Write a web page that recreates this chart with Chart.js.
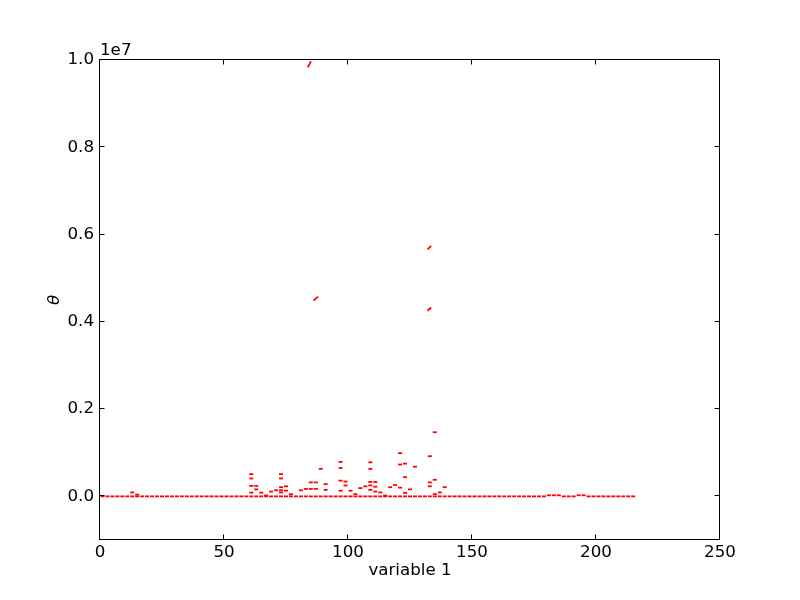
<!DOCTYPE html>
<html>
<head>
<meta charset="utf-8">
<script src="https://cdn.jsdelivr.net/npm/chart.js@4.4.1/dist/chart.umd.min.js"></script>
<style>
  html, body { margin: 0; background: #fff; }
</style>
</head>
<body>
<canvas id="chart" width="800" height="600"></canvas>
<script>
// Tick values for both axes
const xTicks = [0, 50, 100, 150, 200, 250];
const yTicks = [0, 2e6, 4e6, 6e6, 8e6, 1e7];

// Baseline dashes (variable 1 vs theta)
const baseX = [
  1, 3, 5, 7, 9, 11, 13, 15, 17, 19,
  21, 23, 25, 27, 29, 31, 33, 35, 37, 39,
  41, 43, 45, 47, 49, 51, 53, 55, 57, 59,
  61, 63, 65, 67, 69, 71, 73, 75, 77, 79,
  81, 83, 85, 87, 89, 91, 93, 95, 97, 99,
  101, 103, 105, 107, 109, 111, 113, 115, 117, 119,
  121, 123, 125, 127, 129, 131, 133, 135, 137, 139,
  141, 143, 145, 147, 149, 151, 153, 155, 157, 159,
  161, 163, 165, 167, 169, 171, 173, 175, 177, 179,
  181, 183, 185, 187, 189, 191, 193, 195, 197, 199,
  201, 203, 205, 207, 209, 211, 213, 215
];
const baseY = [
  0, 0, 0, 0, 0, 0, 0, 0, 0, 0,
  0, 0, 0, 0, 0, 0, 0, 0, 0, 0,
  0, 0, 0, 0, 0, 0, 0, 0, 0, 0,
  0, 0, 0, 0, 0, 0, 0, 0, 0, 0,
  0, 0, 0, 0, 0, 0, 0, 0, 0, 0,
  0, 0, 0, 0, 0, 0, 0, 0, 0, 0,
  0, 0, 0, 0, 0, 0, 0, 0, 0, 0,
  0, 0, 0, 0, 0, 0, 0, 0, 0, 0,
  0, 0, 0, 0, 0, 0, 0, 0, 0, 0,
  25000, 25000, 25000, 0, 0, 0, 25000, 25000, 0, 0,
  0, 0, 0, 0, 0, 0, 0, 0
];

// Raised dashes above the baseline
const raisedX = [
  13, 15,
  61, 61, 61, 61, 63, 63, 65, 67, 69, 71,
  73, 73, 73, 73, 73, 75, 75, 77, 81, 83,
  85, 85, 87, 87, 89, 91, 91,
  97, 97, 97, 97, 99, 99, 101, 103, 105, 107,
  109, 109, 109, 109, 109, 111, 111, 111, 113, 115, 117, 119,
  121, 121, 121, 123, 123, 123, 125, 127,
  133, 133, 133, 135, 135, 135, 137, 139
];
const raisedY = [
  90000, 40000,
  510000, 410000, 240000, 85000, 240000, 160000, 85000, 20000, 110000, 140000,
  510000, 410000, 210000, 140000, 90000, 230000, 130000, 50000, 140000, 170000,
  320000, 170000, 320000, 170000, 630000, 280000, 150000,
  790000, 650000, 360000, 130000, 340000, 250000, 130000, 50000, 190000, 230000,
  780000, 630000, 330000, 250000, 150000, 330000, 220000, 110000, 90000, 20000, 210000, 260000,
  990000, 730000, 200000, 750000, 440000, 80000, 160000, 680000,
  920000, 320000, 230000, 1470000, 380000, 50000, 90000, 210000
];

// Steep outlier segments
const outlierX = [84.4, 87.0, 132.8, 132.8];
const outlierY = [9900000, 4530000, 5700000, 4290000];

const toPoints = (xs, ys) => xs.map((x, i) => ({ x: x, y: ys[i] }));

const FONT = 'DejaVu Sans';
const FONT_SIZE = 16.7;
Chart.defaults.font.family = FONT;
Chart.defaults.font.size = FONT_SIZE;
Chart.defaults.color = '#000';

// Matplotlib-style frame with inward ticks on all four sides, plus offset text
const framePlugin = {
  id: 'frame',
  afterDraw(chart) {
    const { ctx, chartArea: a, scales } = chart;
    const L = Math.round(a.left) - 0.5, R = Math.round(a.right) - 0.5;
    const T = Math.round(a.top) - 0.5, B = Math.round(a.bottom) - 0.5;
    const tick = 5;
    ctx.save();
    ctx.strokeStyle = '#000';
    ctx.lineWidth = 1;
    ctx.strokeRect(L, T, R - L, B - T);
    ctx.beginPath();
    xTicks.forEach(v => {
      const px = Math.round(scales.x.getPixelForValue(v)) - 0.5;
      ctx.moveTo(px, B); ctx.lineTo(px, B - tick);
      ctx.moveTo(px, T); ctx.lineTo(px, T + tick);
    });
    yTicks.forEach(v => {
      const py = Math.round(scales.y.getPixelForValue(v)) - 0.5;
      ctx.moveTo(L, py); ctx.lineTo(L + tick, py);
      ctx.moveTo(R, py); ctx.lineTo(R - tick, py);
    });
    ctx.stroke();

    ctx.fillStyle = '#000';
    ctx.font = FONT_SIZE + 'px "' + FONT + '"';
    ctx.textAlign = 'left';
    ctx.textBaseline = 'alphabetic';
    ctx.fillText('1e7', a.left, a.top - 5);
    ctx.restore();
  }
};

const dashStyle = {
  showLine: false,
  pointStyle: 'line',
  borderColor: '#ff0000',
  backgroundColor: '#ff0000',
  borderWidth: 1.8,
  pointRadius: 2
};

new Chart(document.getElementById('chart'), {
  type: 'scatter',
  data: {
    datasets: [
      Object.assign({ label: 'baseline', data: toPoints(baseX, baseY) }, dashStyle),
      Object.assign({ label: 'raised', data: toPoints(raisedX, raisedY) }, dashStyle),
      Object.assign({ label: 'outliers', data: toPoints(outlierX, outlierY) }, dashStyle, {
        pointRotation: [-61, -42, -45, -40],
        pointRadius: [3.4, 3, 2.5, 2.5]
      })
    ]
  },
  options: {
    responsive: false,
    animation: false,
    events: [],
    layout: { padding: { left: 0, top: 60, right: 80, bottom: 0 } },
    plugins: { legend: { display: false }, tooltip: { enabled: false } },
    scales: {
      x: {
        type: 'linear',
        min: 0,
        max: 250,
        grid: { display: false, drawTicks: false },
        border: { display: false },
        afterBuildTicks: s => { s.ticks = xTicks.map(v => ({ value: v })); },
        afterFit: s => { s.height = 60; },
        ticks: { padding: 3, maxRotation: 0, callback: v => String(v) },
        title: { display: true, text: 'variable 1', padding: { top: 0, bottom: 19 } }
      },
      y: {
        type: 'linear',
        min: -1e6,
        max: 1e7,
        grid: { display: false, drawTicks: false },
        border: { display: false },
        afterBuildTicks: s => { s.ticks = yTicks.map(v => ({ value: v })); },
        afterFit: s => { s.width = 100; },
        ticks: { padding: 6, callback: v => (v / 1e7).toFixed(1) },
        title: {
          display: true,
          text: 'θ',
          font: { style: 'italic', size: FONT_SIZE },
          padding: { top: 45, bottom: 0 }
        }
      }
    }
  },
  plugins: [framePlugin]
});
</script>
</body>
</html>
